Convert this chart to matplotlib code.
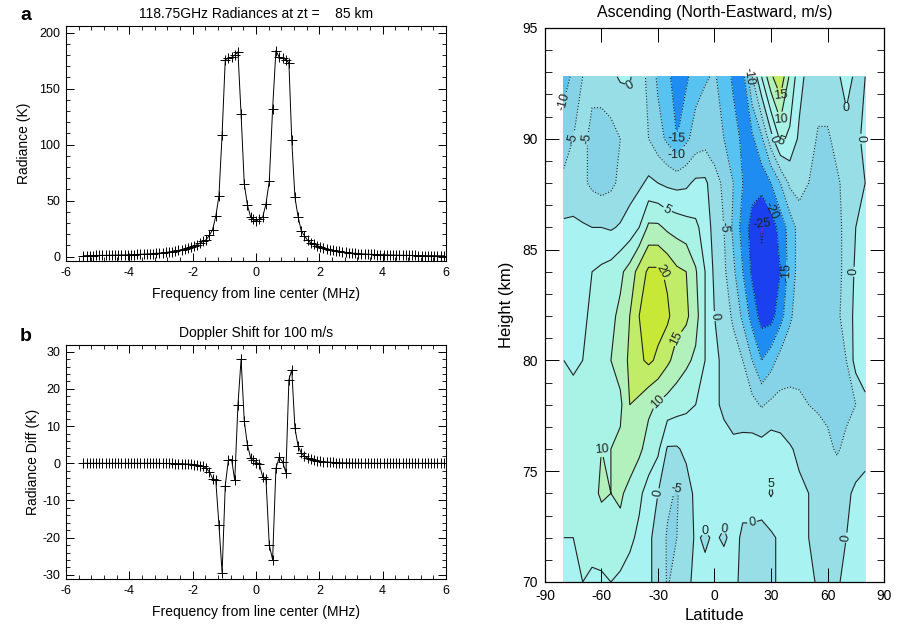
import numpy as np
import matplotlib
matplotlib.use("Agg")
import matplotlib.pyplot as plt
from matplotlib.ticker import MultipleLocator

plt.rcParams['font.family'] = ['Liberation Sans', 'DejaVu Sans']
plt.rcParams['axes.unicode_minus'] = False

# ---------------- Panel a / b data ----------------
freq_left = [-5.45, -5.35, -5.25, -5.15, -5.05, -4.95, -4.85, -4.75, -4.65, -4.55,
             -4.45, -4.35, -4.25, -4.15, -4.05, -3.95, -3.85, -3.75, -3.65, -3.55,
             -3.45, -3.35, -3.25, -3.15, -3.05, -2.95, -2.85, -2.75, -2.65, -2.55,
             -2.45, -2.35, -2.25, -2.15, -2.05, -1.95, -1.85, -1.77]
freq_center = [-1.67, -1.57, -1.47, -1.37, -1.27, -1.17, -1.07, -0.97, -0.87, -0.77,
               -0.67, -0.57, -0.47, -0.37, -0.27, -0.17, -0.08, 0.0, 0.105, 0.21,
               0.315, 0.42, 0.525, 0.63, 0.735, 0.84, 0.945, 1.04, 1.13, 1.23,
               1.33, 1.43, 1.53]
freq_right = [1.63, 1.73, 1.83, 1.93, 2.03, 2.13, 2.23, 2.33, 2.43, 2.53,
              2.63, 2.73, 2.83, 2.93, 3.03, 3.13, 3.23, 3.33, 3.43, 3.53,
              3.63, 3.73, 3.83, 3.93, 4.03, 4.13, 4.23, 4.33, 4.43, 4.53,
              4.63, 4.73, 4.83, 4.93, 5.03, 5.13, 5.23, 5.33, 5.43, 5.53,
              5.63, 5.73, 5.83, 5.95]

rad_left = [0.8, 0.8, 0.9, 0.9, 1.0, 1.0, 1.1, 1.1, 1.2, 1.2,
            1.3, 1.4, 1.4, 1.5, 1.6, 1.7, 1.8, 1.9, 2.0, 2.2,
            2.3, 2.5, 2.7, 2.9, 3.1, 3.4, 3.7, 4.1, 4.5, 5.0,
            5.5, 6.1, 6.8, 7.6, 8.5, 9.5, 10.7, 12.0]
rad_center = [13.5, 15.1, 19.2, 24.0, 36.0, 54.0, 109.0, 176.0, 177.0, 178.0,
              180.0, 183.0, 127.0, 65.0, 46.0, 35.5, 33.5, 31.5, 33.5, 35.0,
              47.0, 67.5, 132.0, 184.0, 178.0, 177.0, 176.0, 173.0, 104.0, 53.0,
              35.5, 23.0, 18.6]
rad_right = [14.5, 12.5, 11.0, 9.8, 8.7, 7.8, 7.0, 6.3, 5.7, 5.1,
             4.6, 4.2, 3.8, 3.5, 3.2, 2.9, 2.7, 2.5, 2.3, 2.1,
             2.0, 1.9, 1.8, 1.7, 1.6, 1.5, 1.4, 1.4, 1.3, 1.2,
             1.2, 1.1, 1.1, 1.0, 1.0, 0.9, 0.9, 0.9, 0.8, 0.8,
             0.8, 0.7, 0.7, 0.7]

diff_left = [0.0, 0.0, 0.0, 0.0, 0.0, 0.0, 0.0, 0.0, 0.0, 0.0,
             0.0, 0.0, 0.0, 0.0, 0.0, 0.0, 0.0, 0.0, 0.0, 0.0,
             0.0, 0.0, 0.0, 0.0, 0.0, -0.02, -0.03, -0.04, -0.05, -0.06,
             -0.08, -0.1, -0.15, -0.2, -0.25, -0.35, -0.45, -0.6]
diff_center = [-0.8, -1.4, -2.3, -4.1, -4.5, -16.5, -29.5, -6.0, 1.0, 1.0,
               -4.6, 15.7, 28.0, 11.4, 4.9, 1.5, 1.0, 0.2, -0.1, -3.6,
               -4.2, -22.0, -25.9, -1.3, 1.6, 0.4, -2.5, 22.5, 25.1, 9.5,
               4.6, 2.8, 1.9]
diff_right = [1.4, 1.1, 0.85, 0.7, 0.55, 0.45, 0.38, 0.3, 0.25, 0.2,
              0.17, 0.14, 0.12, 0.1, 0.08, 0.06, 0.05, 0.04, 0.03, 0.02,
              0.02, 0.01, 0.01, 0.0, 0.0, 0.0, 0.0, 0.0, 0.0, 0.0,
              0.0, 0.0, 0.0, 0.0, 0.0, 0.0, 0.0, 0.0, 0.0, 0.0,
              0.0, 0.0, 0.0, 0.0]

freq = freq_left + freq_center + freq_right
radiance = rad_left + rad_center + rad_right
rad_diff = diff_left + diff_center + diff_right

# ---------------- Panel c data ----------------
lats = [-80, -75, -70, -65, -60, -55, -50, -45, -40, -35, -30, -25, -20, -15, -10, -5, 0,
        5, 10, 15, 20, 25, 30, 35, 40, 45, 50, 55, 60, 65, 70, 75, 80]
heights = [70, 72, 74, 76, 78, 80, 82, 84, 86, 88, 90, 92.8]
wind = [
    # 70 km
    [4, 5, 5, 4, 4, 5, 4, 3, 2, 0.5, -1, -5.5, -3, -1, 1, 1, 2, 2, 1, -1, -2, -2, -1, 1, 2, 2, 1, -0.5, -1, -0.5, 1, 2, 3],
    # 72
    [5, 5, 6, 7, 8, 10, 8, 6, 4, 1, -2, -5.5, -5, -2, 0.5, -0.5, 0.5, -0.5, 1, -0.5, -1, -2, -1, 1, 2, 1, 0, -1, -1.5, -1, 0, 3, 5],
    # 74
    [7, 6, 6, 9, 10.5, 10, 11, 8, 6, 3, 0, -4, -5.5, -2, 1, 3, 2, 2, 2, 1, 2, 3, 5.5, 3, 2, 1, 0, -1.5, -2, -2, -1, 1, 3],
    # 76
    [10, 8, 6, 8, 10, 10, 11, 14, 11, 8, 6, -0.5, -0.5, 1, 3, 4, 3, 2, 1, 1.5, 2, 2, 3, 2, 0.5, -1, -2, -3, -4, -5.5, -4, -3, -3],
    # 78
    [9, 7, 6, 6, 7, 8, 9, 15, 14, 11, 9.5, 8, 7, 6, 5, 3, 1, -1, -2, -2.5, -3.5, -5.5, -4, -3.5, -4, -4.5, -5, -5.5, -6, -6, -6, -5, -2],
    # 80
    [5, 4, 5, 6, 8, 10, 12, 16, 19, 21, 19, 16, 13, 11, 9, 5, 1, -1, -2.5, -5, -10, -15, -12, -8, -6.5, -6, -6, -6, -6, -6, -5, 2, 5],
    # 82
    [3, 2, 4, 6, 7, 9, 11, 15, 20, 23, 22, 21, 17, 16, 12, 5, 0, -2, -6, -11, -17, -22, -22, -17, -11, -7, -6, -6, -6, -5.5, -4, 2, 4],
    # 84
    [5, 3, 4, 5, 6, 7, 9, 12, 17, 21, 21, 19, 16, 15, 10.5, 5, -1, -4, -9, -15, -21, -24, -23, -20, -13, -8, -6, -6, -6, -6, -4, 1, 3],
    # 86
    [1, 1, 0.5, 0, 0, -0.5, 0.5, 2, 5, 11, 11, 9, 8, 7, 6, 3, -2, -5, -11, -17, -22, -25.6, -23, -18, -13, -8, -6.5, -6, -6, -6, -4, 0, 2],
    # 88
    [-4, -3, -4, -6, -7, -6, -4, -2, -1, 1, 0, -1, -1.5, -1, 1, 1, -3, -6, -10, -15, -18, -18, -15, -10, -4, -3, -5, -6, -6, -5.5, -4, -2, 0],
    # 90
    [-7, -5, -4, -6, -7, -7, -5, -3, -3, -5, -8, -11, -15, -11, -8, -7, -8, -10, -13, -16, -16, -11, -2, 6, 4, -1, -3, -5.5, -5.5, -4, -2, -1, 1],
    # 92.8
    [-12, -9, -5, -4, -3, -1, 0.5, 0.5, -3, -6, -11, -14, -17, -16, -12, -10.5, -9.5, -12, -16, -17, -5, 5, 14, 19, 9, 2, -2, -3, -3, -1, 2, -1, 0],
]

levels = [-30, -25, -20, -15, -10, -5, 0, 5, 10, 15, 20, 25, 30]
fill_colors = ['#6a22d8', '#1a40f0', '#1e8cf0', '#58c2f0', '#86d2e6', '#98dee6',
               '#a8f2f2', '#a8f2e6', '#b2f0bc', '#c0ec68', '#c8e838', '#d0e020']

# ---------------- Figure ----------------
fig = plt.figure(figsize=(9.05, 6.26), dpi=100)

def idl_ticks(ax):
    ax.tick_params(which='both', direction='in', top=True, right=True, labelsize=9,
                   colors='black', pad=4)
    ax.tick_params(which='major', length=6, width=0.7)
    ax.tick_params(which='minor', length=3, width=0.6)
    for s in ax.spines.values():
        s.set_linewidth(0.8)

# Panel a
axa = fig.add_axes([0.0729, 0.583, 0.4199, 0.3755])
axa.plot(freq, radiance, color='black', lw=0.7, marker='+', ms=7, mew=0.7)
axa.set_xlim(-6, 6)
axa.set_ylim(-4, 206)
axa.xaxis.set_major_locator(MultipleLocator(2))
axa.xaxis.set_minor_locator(MultipleLocator(0.4))
axa.yaxis.set_major_locator(MultipleLocator(50))
axa.yaxis.set_minor_locator(MultipleLocator(10))
idl_ticks(axa)
axa.set_title('118.75GHz Radiances at zt =    85 km', fontsize=10, pad=6)
axa.set_xlabel('Frequency from line center (MHz)', fontsize=10, labelpad=6)
axa.set_ylabel('Radiance (K)', fontsize=10, labelpad=6)
fig.text(0.022, 0.975, 'a', fontsize=14, fontweight='bold', va='center', ha='left')

# Panel b
axb = fig.add_axes([0.0729, 0.0751, 0.4199, 0.3738])
axb.plot(freq, rad_diff, color='black', lw=0.7, marker='+', ms=7, mew=0.7)
axb.set_xlim(-6, 6)
axb.set_ylim(-31.1, 31.8)
axb.xaxis.set_major_locator(MultipleLocator(2))
axb.xaxis.set_minor_locator(MultipleLocator(0.4))
axb.yaxis.set_major_locator(MultipleLocator(10))
axb.yaxis.set_minor_locator(MultipleLocator(2))
idl_ticks(axb)
axb.set_title('Doppler Shift for 100 m/s', fontsize=10, pad=6)
axb.set_xlabel('Frequency from line center (MHz)', fontsize=10, labelpad=6)
axb.set_ylabel('Radiance Diff (K)', fontsize=10, labelpad=2)
fig.text(0.022, 0.462, 'b', fontsize=14, fontweight='bold', va='center', ha='left')

# Panel c
axc = fig.add_axes([0.6022, 0.0703, 0.3746, 0.885])
Z = np.array(wind, dtype=float)
cf = axc.contourf(lats, heights, Z, levels=levels, colors=fill_colors)
line_styles = [':' if lv < 0 else '-' for lv in levels]
cs = axc.contour(lats, heights, Z, levels=levels, colors='#222222', linewidths=0.8,
                 linestyles=line_styles)
axc.clabel(cs, fmt='%d', fontsize=9, inline=True, inline_spacing=2)
axc.set_xlim(-90, 90)
axc.set_ylim(70, 95)
axc.xaxis.set_major_locator(MultipleLocator(30))
axc.yaxis.set_major_locator(MultipleLocator(5))
axc.yaxis.set_minor_locator(MultipleLocator(1))
axc.tick_params(which='both', direction='in', top=True, right=True, labelsize=10, pad=5)
axc.tick_params(which='major', length=10, width=0.7)
axc.tick_params(which='minor', length=5, width=0.6)
for s in axc.spines.values():
    s.set_linewidth(0.9)
axc.set_title('Ascending (North-Eastward, m/s)', fontsize=11.5, pad=8)
axc.set_xlabel('Latitude', fontsize=12, labelpad=4)
axc.set_ylabel('Height (km)', fontsize=12, labelpad=6)

fig.savefig('out.png', dpi=100)
